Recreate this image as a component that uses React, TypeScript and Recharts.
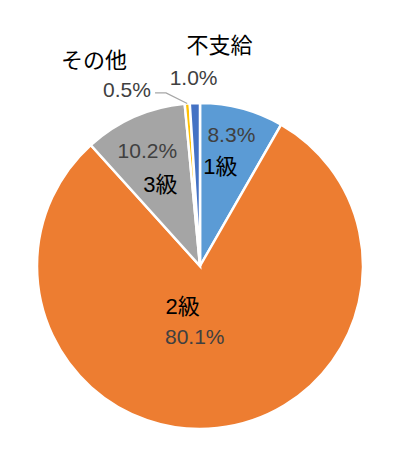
import { PieChart, Pie, Cell } from "recharts";

const categories = ["1級", "2級", "3級", "その他", "不支給"];
const shares = [8.3, 80.1, 10.2, 0.5, 1.0];

const data = categories.map((name, i) => ({ name, value: shares[i] }));

const colors = ["#5B9BD5", "#ED7D31", "#A5A5A5", "#FFC000", "#4472C4"];

const RAD = Math.PI / 180;
const FONT = "'Liberation Sans', 'Noto Sans CJK JP', sans-serif";

// label placement relative to the slice's mid-angle point (frac of radius)
const layout: Record<string, { frac: number; name: [number, number]; pct: [number, number]; leader?: boolean }> = {
    "1級": { frac: 0.7, pct: [2, -21], name: [-9, 11] },
    "2級": { frac: 0.33, name: [-23, -13], pct: [-11, 17] },
    "3級": { frac: 0.68, pct: [-8, -14], name: [5, 20] },
    "その他": { frac: 1.25, name: [-90, -2], pct: [-57, 27], leader: true },
    "不支給": { frac: 1.25, name: [26, -17], pct: [0, 15] },
};

const renderLabel = (props: any) => {
    const { cx, cy, midAngle, outerRadius, name, value } = props;
    const l = layout[name];
    const r = outerRadius * l.frac;
    const x = cx + r * Math.cos(-midAngle * RAD);
    const y = cy + r * Math.sin(-midAngle * RAD);
    let leader = null;
    if (l.leader) {
        const ex = cx + outerRadius * Math.cos(-midAngle * RAD);
        const ey = cy + outerRadius * Math.sin(-midAngle * RAD);
        const ly = y + l.pct[1] + 3;
        const lx = x + l.pct[0] + 28;
        leader = (
            <polyline
                points={`${ex},${ey} ${lx + 11},${ly} ${lx},${ly}`}
                fill="none"
                stroke="#A6A6A6"
                strokeWidth={1.2}
            />
        );
    }
    return (
        <g>
            {leader}
            <text
                x={x + l.name[0]}
                y={y + l.name[1]}
                textAnchor="middle"
                dominantBaseline="central"
                fill="#000000"
                fontSize={22}
                fontFamily={FONT}
            >
                {name}
            </text>
            <text
                x={x + l.pct[0]}
                y={y + l.pct[1]}
                textAnchor="middle"
                dominantBaseline="central"
                fill="#404040"
                fontSize={21}
                fontFamily={FONT}
            >
                {`${value.toFixed(1)}%`}
            </text>
        </g>
    );
};

export default function App() {
    return (
        <div style={{ position: "absolute", left: 0, top: 0, background: "#fff" }}>
            <PieChart width={397} height={457} margin={{ top: 0, right: 0, bottom: 0, left: 0 }}>
                <Pie
                    data={data}
                    dataKey="value"
                    nameKey="name"
                    cx={200}
                    cy={266}
                    outerRadius={163}
                    startAngle={90}
                    endAngle={-270}
                    stroke="#ffffff"
                    strokeWidth={2.5}
                    label={renderLabel}
                    labelLine={false}
                    isAnimationActive={false}
                >
                    {data.map((d, i) => (
                        <Cell key={d.name} fill={colors[i]} />
                    ))}
                </Pie>
            </PieChart>
        </div>
    );
}
